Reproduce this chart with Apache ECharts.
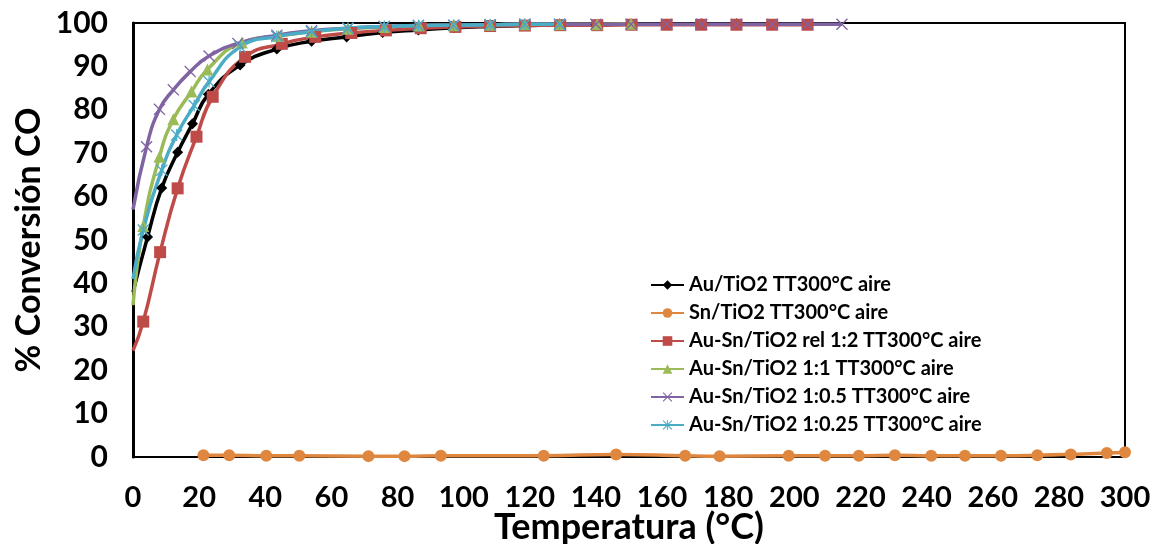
<!DOCTYPE html>
<html>
<head>
<meta charset="utf-8">
<script src="https://cdn.jsdelivr.net/npm/echarts@6/dist/echarts.min.js"></script>
<style>
  html, body { margin: 0; padding: 0; background: #fff; }
  #chart { width: 1155px; height: 544px; }
</style>
</head>
<body>
<div id="chart"></div>
<script>
// Temperature (°C) and CO conversion (%) for each catalyst
const auTemp   = [0, 4.4, 8.7, 13.5, 18, 22.8, 32.4, 43.5, 54, 64.6, 75.5, 86.3, 97, 107.9, 118.5, 129, 140, 150.6, 161.4, 172, 182.5];
const auConv   = [38, 50.7, 62, 70.2, 76.8, 83.6, 90.3, 94, 95.8, 96.8, 97.8, 98.4, 98.9, 99.2, 99.4, 99.5, 99.6, 99.7, 99.7, 99.8, 99.8];

const snTemp   = [21.3, 29.1, 40.3, 50.3, 71.2, 82.1, 93.1, 124.2, 146.1, 167, 177.4, 198.3, 209.3, 219.5, 230.4, 241.4, 251.6, 262.5, 273.5, 283.6, 294.5, 300];
const snConv   = [0.4, 0.4, 0.3, 0.3, 0.2, 0.2, 0.3, 0.3, 0.6, 0.3, 0.2, 0.3, 0.3, 0.3, 0.4, 0.3, 0.3, 0.3, 0.4, 0.6, 0.9, 1.1];

const r12Temp  = [0, 3.1, 8.2, 13.5, 19.2, 24.1, 33.9, 45, 55.1, 66, 76.5, 87, 97.5, 108, 118.5, 129.2, 140.4, 150.8, 161.4, 171.8, 182.5, 193.3, 204];
const r12Conv  = [24.5, 31.2, 47.2, 61.9, 73.8, 83, 92.2, 95.2, 96.8, 97.7, 98.3, 98.8, 99.1, 99.3, 99.4, 99.5, 99.5, 99.6, 99.6, 99.6, 99.6, 99.6, 99.6];

const r11Temp  = [0, 3.1, 8, 12.2, 17.7, 22.5, 32.9, 44, 54, 65, 76, 86.5, 97, 108, 118.5, 129, 140.4, 150.6];
const r11Conv  = [35, 53.2, 69.2, 77.8, 84.2, 89.3, 95.5, 97, 98, 98.7, 99.1, 99.4, 99.5, 99.6, 99.7, 99.7, 99.7, 99.8];

const r105Temp = [0, 4.1, 8, 12.2, 17.3, 23, 31.7, 43.5, 54, 65, 76, 86.3, 97, 108, 118.5, 129, 140, 150.6, 161.4, 172, 182.5, 193.3, 204, 214.4];
const r105Conv = [57, 71.5, 80.1, 84.6, 88.8, 92.4, 95.3, 97.2, 98.2, 98.8, 99.2, 99.4, 99.5, 99.6, 99.7, 99.7, 99.7, 99.7, 99.7, 99.7, 99.7, 99.7, 99.7, 99.7];

const r1025Temp = [0, 3.1, 8.7, 13.2, 18.5, 23, 32.4, 43.5, 54, 65, 76, 86.3, 97, 108, 118.5, 129];
const r1025Conv = [41, 52.3, 66.1, 74.2, 81, 86.5, 94.5, 96.9, 98, 98.8, 99.2, 99.4, 99.5, 99.6, 99.7, 99.7];

const seriesNames = [
  'Au/TiO2 TT300°C aire',
  'Sn/TiO2 TT300°C aire',
  'Au-Sn/TiO2 rel 1:2 TT300°C aire',
  'Au-Sn/TiO2 1:1 TT300°C aire',
  'Au-Sn/TiO2 1:0.5 TT300°C aire',
  'Au-Sn/TiO2 1:0.25 TT300°C aire'
];

const xTicks = { min: 0, max: 300, interval: 20 };
const yTicks = { min: 0, max: 100, interval: 10 };

const FONT = 'Lato';

// thin "x" and asterisk markers
const crossPath = 'path://M0,0.08 L0.08,0 L0.5,0.42 L0.92,0 L1,0.08 L0.58,0.5 L1,0.92 L0.92,1 L0.5,0.58 L0.08,1 L0,0.92 L0.42,0.5 Z';
const starPath = 'path://M0,0.08 L0.08,0 L0.5,0.42 L0.92,0 L1,0.08 L0.58,0.5 L1,0.92 L0.92,1 L0.5,0.58 L0.08,1 L0,0.92 L0.42,0.5 Z M0.45,0 L0.55,0 L0.55,1 L0.45,1 Z';

function pairs(xs, ys, hideFirstAtZero) {
  return xs.map((x, i) => {
    const item = { value: [x, ys[i]] };
    if (hideFirstAtZero && i === 0 && x === 0) item.symbol = 'none';
    return item;
  });
}

function lineSeries(name, xs, ys, color, symbol, size) {
  return {
    name: name,
    type: 'line',
    smooth: 0.5,
    data: pairs(xs, ys, true),
    symbol: symbol,
    symbolSize: size,
    showAllSymbol: true,
    lineStyle: { color: color, width: 3.5 },
    itemStyle: { color: color },
    emphasis: { disabled: true },
    clip: true
  };
}

const chart = echarts.init(document.getElementById('chart'), null, { renderer: 'canvas' });

chart.setOption({
  animation: false,
  backgroundColor: '#ffffff',
  grid: {
    left: 133, right: 30, top: 23, bottom: 87,
    outerBoundsMode: 'none',
    containLabel: false,
    show: true, borderColor: '#000', borderWidth: 2, backgroundColor: 'transparent'
  },
  legend: {
    orient: 'vertical',
    left: 650,
    top: 274,
    padding: 0,
    itemWidth: 33,
    itemHeight: 12,
    itemGap: 6,
    data: seriesNames,
    textStyle: { fontFamily: FONT, fontWeight: 'bold', fontSize: 20, lineHeight: 22, color: '#000' }
  },
  xAxis: {
    type: 'value',
    min: xTicks.min, max: xTicks.max, interval: xTicks.interval,
    name: 'Temperatura (°C)',
    nameLocation: 'middle',
    nameGap: 52,
    nameMoveOverlap: false,
    nameTextStyle: { fontFamily: FONT, fontWeight: 'bold', fontSize: 36, color: '#000' },
    axisLine: { show: true, lineStyle: { color: '#000', width: 2 } },
    axisTick: { show: false },
    splitLine: { show: false },
    axisLabel: { fontFamily: FONT, fontWeight: 'bold', fontSize: 29, color: '#000', margin: 26 }
  },
  yAxis: {
    type: 'value',
    min: yTicks.min, max: yTicks.max, interval: yTicks.interval,
    name: '% Conversión CO',
    nameLocation: 'middle',
    nameGap: 87,
    nameMoveOverlap: false,
    nameTextStyle: { fontFamily: FONT, fontWeight: 'bold', fontSize: 34, color: '#000' },
    axisLine: { show: true, lineStyle: { color: '#000', width: 3 } },
    axisTick: { show: false },
    splitLine: { show: false },
    axisLabel: { fontFamily: FONT, fontWeight: 'bold', fontSize: 30, color: '#000', margin: 25 }
  },
  series: [
    lineSeries(seriesNames[0], auTemp, auConv, '#000000', 'diamond', 11),
    Object.assign(lineSeries(seriesNames[1], snTemp, snConv, '#E0873F', 'circle', 12), { data: pairs(snTemp, snConv, false) }),
    lineSeries(seriesNames[2], r12Temp, r12Conv, '#BE4B48', 'rect', 12),
    lineSeries(seriesNames[3], r11Temp, r11Conv, '#9BBB59', 'triangle', 12),
    lineSeries(seriesNames[4], r105Temp, r105Conv, '#8064A2', crossPath, 12),
    lineSeries(seriesNames[5], r1025Temp, r1025Conv, '#4BACC6', starPath, 12)
  ]
});
</script>
</body>
</html>
